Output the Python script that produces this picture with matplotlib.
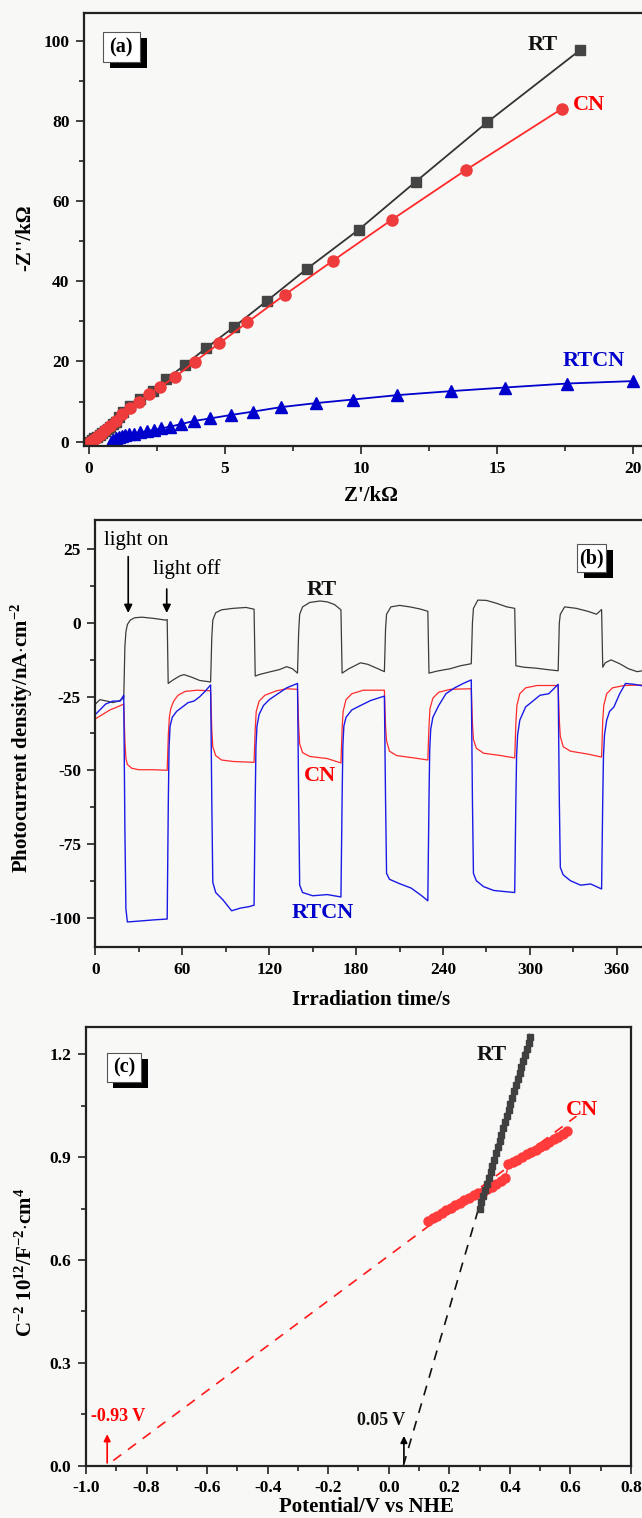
import matplotlib
matplotlib.use('Agg')
import matplotlib.pyplot as plt
from matplotlib.patches import Rectangle
from matplotlib.ticker import MultipleLocator, FormatStrFormatter

plt.rcParams['font.family'] = ['Liberation Serif', 'DejaVu Serif']
plt.rcParams['font.weight'] = 'bold'
plt.rcParams['axes.unicode_minus'] = False
plt.rcParams['mathtext.fontset'] = 'custom'
plt.rcParams['mathtext.rm'] = 'Liberation Serif:bold'
plt.rcParams['mathtext.it'] = 'Liberation Serif:italic:bold'
plt.rcParams['mathtext.bf'] = 'Liberation Serif:bold'

# ---------------- data: (a) Nyquist ----------------
RT_zre = [0.0, 0.1, 0.2, 0.3, 0.41, 0.5, 0.6, 0.7, 0.78, 0.88, 0.99, 1.12, 1.25, 1.51, 1.88,
          2.36, 2.85, 3.54, 4.32, 5.35, 6.54, 8.01, 9.92, 12.02, 14.64, 18.07]
RT_zim = [0.0, 0.4, 0.8, 1.2, 1.7, 2.2, 2.7, 3.2, 3.7, 4.3, 5.0, 6.1, 7.3, 9.0, 10.6,
          12.7, 15.6, 19.2, 23.4, 28.7, 35.1, 43.1, 52.9, 64.9, 79.7, 97.8]
CN_zre = [0.05, 0.15, 0.25, 0.35, 0.45, 0.6, 0.78, 0.99, 1.2, 1.52, 1.84, 2.2, 2.63, 3.18,
          3.89, 4.79, 5.83, 7.21, 8.96, 11.14, 13.86, 17.39]
CN_zim = [0.0, 0.5, 1.0, 1.5, 2.0, 2.9, 4.0, 5.2, 6.9, 8.4, 10.0, 11.8, 13.7, 16.2,
          19.95, 24.5, 29.8, 36.7, 45.1, 55.4, 67.8, 83.1]
RTCN_zre = [0.82, 0.9, 1.0, 1.1, 1.2, 1.32, 1.48, 1.67, 1.88, 2.12, 2.38, 2.65, 2.97, 3.40,
            3.87, 4.47, 5.23, 6.05, 7.06, 8.34, 9.70, 11.34, 13.31, 15.30, 17.59, 20.0]
RTCN_zim = [0.0, 0.4, 0.8, 1.1, 1.35, 1.6, 1.8, 2.0, 2.3, 2.6, 2.9, 3.3, 3.7, 4.4,
            5.15, 5.8, 6.65, 7.5, 8.6, 9.6, 10.5, 11.6, 12.6, 13.5, 14.5, 15.1]

# ---------------- data: (b) photocurrent ----------------
RT_t = [0, 3, 8, 12, 16, 19.5, 20.3, 21, 22, 24, 27, 32, 40, 48.5, 49.5, 50.2, 53, 58, 61, 66, 72,
        79.5, 80.3, 81, 83, 87, 95, 104, 109.5, 110.3, 113, 121, 127, 132, 136, 139.5, 140.3, 141,
        143, 148, 155, 160, 165, 169.5, 170.3, 175, 183, 188, 195, 199.5, 200.3, 201, 204, 210, 217,
        224, 229.5, 230.3, 236, 245, 252, 259.5, 260.3, 261, 264, 270, 277, 284, 289.5, 290.3, 296,
        304, 312, 319.5, 320.3, 321, 324, 332, 340, 346, 349.5, 350.3, 352, 356, 362, 368, 374, 380]
RT_j = [-27.5, -26, -26.5, -27, -26.5, -25.5, -8, -3, -0.5, 1, 1.8, 2, 1.6, 1.0, 1.2, -20.5, -19.5,
        -18, -17.5, -18.3, -19.5, -20, -5, 1, 3.5, 4.5, 5, 5.3, 4.7, -18, -17.5, -16.5, -15.8, -14.8,
        -15.5, -17, -3, 3, 5.5, 7, 7.5, 7.2, 6.3, 4.5, -17, -15.5, -13.5, -14, -15.5, -16.5, -2, 3,
        5.5, 6, 5.5, 4.8, 4, -17, -16.3, -15.5, -14.5, -13.8, 0, 5, 7.8, 7.7, 6.7, 5.5, 5, -14.5,
        -15, -15.3, -15.8, -16.2, 0, 3, 5.5, 5, 4, 3, 4.6, -15, -13.5, -12.5, -13.8, -15.5, -16.5, -16]

CN_t = [0, 5, 10, 15, 19.5, 20.3, 21, 22, 25, 30, 40, 49.5, 50.3, 51, 52, 54, 57, 62, 70, 79.5,
        80.3, 81, 83, 87, 95, 109.5, 110.3, 111, 113, 117, 125, 132, 139.5, 140.3, 141, 143, 148,
        160, 169.5, 170.3, 171, 173, 177, 185, 199.5, 200.3, 201, 203, 208, 220, 229.5, 230.3, 231,
        233, 237, 245, 259.5, 260.3, 261, 263, 268, 280, 289.5, 290.3, 291, 293, 297, 305, 319.5,
        320.3, 321, 323, 328, 340, 349.5, 350.3, 351, 353, 357, 365, 380]
CN_j = [-32.5, -31, -29.5, -28.5, -27.5, -40, -46, -48, -49.3, -49.8, -49.8, -50, -38, -32, -29,
        -26.5, -24.5, -23.2, -22.8, -23, -36, -42, -45, -46.5, -47, -47.3, -36, -30, -26.5, -24.5,
        -23, -22.3, -22.5, -35, -41, -44, -45.3, -46, -47.5, -36, -30, -26, -24, -22.8, -22.8, -35,
        -40, -43.5, -45, -45.8, -46.5, -35, -29, -25.5, -23.5, -22.5, -22.3, -34, -39.5, -42.5,
        -44.2, -45, -45.8, -34, -28, -24, -22, -21.2, -21.2, -33, -38.5, -42, -43.5, -44.5, -45.5,
        -33, -28, -24, -22, -21.2, -21]

RTCN_t = [0, 3, 7, 12, 17, 19.5, 20.3, 21, 22, 30, 40, 49.5, 50.3, 50.8, 51.5, 53, 56, 60, 64, 68,
          72, 76, 79.5, 80.3, 81, 83, 88, 94, 100, 106, 109.5, 110.3, 110.8, 111.5, 113, 116, 120,
          126, 132, 139.5, 140.3, 141, 143, 150, 160, 169.5, 170.3, 170.8, 171.5, 173, 177, 183,
          190, 199.5, 200.3, 201, 203, 210, 218, 225, 229.5, 230.3, 230.8, 231.5, 233, 237, 242,
          248, 254, 259.5, 260.3, 261, 263, 268, 275, 283, 289.5, 290.3, 290.8, 291.5, 293, 297,
          302, 307, 313, 319.5, 320.3, 321, 323, 328, 335, 342, 349.5, 350.3, 350.8, 351.5, 353,
          355, 358, 362, 366, 372, 380]
RTCN_j = [-31, -29.5, -27.5, -26.5, -26.5, -24.5, -70, -97, -101.5, -101.2, -100.8, -100.5, -60,
          -42, -35, -32, -30, -28.5, -27, -26.5, -25, -23, -21, -60, -88, -91.5, -94, -97.7, -96.8,
          -96.3, -95.8, -60, -42, -35, -31, -28, -26, -24, -22, -20.5, -60, -89, -91.5, -92.6,
          -92.2, -93, -60, -42, -35, -32, -29.5, -28, -26.3, -24.8, -60, -85, -87, -88.5, -90,
          -92.5, -94.3, -60, -43, -36, -32, -28, -24, -22, -20.5, -19.3, -60, -85, -87.5, -89.5,
          -90.8, -91.2, -91.5, -60, -45, -38, -33, -28.5, -26.5, -24.5, -24, -20.8, -60, -83,
          -85.5, -87.5, -89, -88.6, -90.3, -60, -45, -38, -33, -30, -28.5, -24, -20.5, -20.8, -21.5]

# ---------------- data: (c) Mott-Schottky ----------------
RT_E = [0.300, 0.306, 0.312, 0.318, 0.324, 0.330, 0.336, 0.342, 0.348, 0.354, 0.360, 0.366, 0.372,
        0.378, 0.384, 0.390, 0.396, 0.402, 0.408, 0.414, 0.420, 0.426, 0.432, 0.438, 0.444, 0.450,
        0.456, 0.462, 0.468]
RT_C2 = [0.750, 0.768, 0.786, 0.803, 0.822, 0.840, 0.858, 0.875, 0.893, 0.912, 0.930, 0.948, 0.966,
         0.984, 1.002, 1.020, 1.038, 1.056, 1.073, 1.092, 1.110, 1.128, 1.145, 1.162, 1.180, 1.198,
         1.215, 1.232, 1.250]
CN_E = [0.130, 0.145, 0.160, 0.175, 0.190, 0.205, 0.220, 0.235, 0.250, 0.265, 0.280, 0.295, 0.310,
        0.325, 0.340, 0.355, 0.370, 0.385, 0.395, 0.410, 0.425, 0.440, 0.455, 0.470, 0.485, 0.500,
        0.515, 0.530, 0.545, 0.560, 0.575, 0.590]
CN_C2 = [0.715, 0.722, 0.730, 0.737, 0.745, 0.752, 0.760, 0.767, 0.774, 0.782, 0.789, 0.795, 0.800,
         0.806, 0.813, 0.821, 0.830, 0.838, 0.880, 0.886, 0.893, 0.900, 0.908, 0.915, 0.922, 0.930,
         0.937, 0.945, 0.953, 0.960, 0.968, 0.976]
RT_fit_E = [0.048, 0.472]
RT_fit_C2 = [0.0, 1.28]
CN_fit_E = [-0.91, 0.62]
CN_fit_C2 = [0.015, 1.02]
RT_fb = 0.05
CN_fb = -0.93

# ---------------- layout ----------------
W, H = 642, 1518
BG = '#f8f8f7'
TICK_FS = 12.5
LAB_FS = 15
NAME_FS = 16
fig = plt.figure(figsize=(W / 100, H / 100), dpi=100, facecolor=BG)


def px_rect(l, t, r, b):
    return [l / W, 1 - b / H, (r - l) / W, (b - t) / H]


def style(ax):
    ax.set_facecolor(BG)
    for s in ax.spines.values():
        s.set_linewidth(1.6)
        s.set_color('#222222')
    ax.tick_params(which='both', direction='out', top=False, right=False,
                   width=1.2, color='#222222', labelsize=TICK_FS)
    ax.tick_params(which='major', length=6, pad=4.5)
    ax.tick_params(which='minor', length=3.5)
    for lab in ax.get_xticklabels() + ax.get_yticklabels():
        lab.set_fontweight('bold')


def tag(text, l, t, r, b, dx=7, dy=6):
    fig.add_artist(Rectangle(((l + dx) / W, 1 - (b + dy) / H), (r - l) / W, (b - t) / H,
                             transform=fig.transFigure, fc='black', ec='none', zorder=5))
    fig.add_artist(Rectangle((l / W, 1 - b / H), (r - l) / W, (b - t) / H,
                             transform=fig.transFigure, fc='white', ec='#555555', lw=0.8, zorder=6))
    fig.text((l + r) / 2 / W, 1 - (t + b) / 2 / H, text, ha='center', va='center',
             fontsize=14.5, fontweight='bold', zorder=7)


# ---------------- (a) ----------------
ax = fig.add_axes(px_rect(84, 13, 654.6, 446))
ax.plot(RT_zre, RT_zim, '-s', color='#333333', mfc='#444444', mec='#444444', ms=7, lw=1.3)
ax.plot(CN_zre, CN_zim, '-o', color='#ff2a2a', mfc='#ee3b3b', mec='#ee3b3b', ms=8, lw=1.3)
ax.plot(RTCN_zre, RTCN_zim, '-^', color='#0000cc', mfc='#0000cc', mec='#0000cc', ms=8, lw=1.3)
ax.set_xlim(-0.18, 20.8)
ax.set_ylim(-1.1, 107)
ax.xaxis.set_major_locator(MultipleLocator(5))
ax.xaxis.set_minor_locator(MultipleLocator(2.5))
ax.yaxis.set_major_locator(MultipleLocator(20))
ax.yaxis.set_minor_locator(MultipleLocator(10))
style(ax)
ax.set_xlabel("Z'/k\u03a9", fontsize=LAB_FS, fontweight='bold')
ax.set_ylabel("-Z''/k\u03a9", fontsize=LAB_FS, fontweight='bold')
ax.xaxis.set_label_coords(0.503, -0.093)
ax.yaxis.set_label_coords(-0.086, 0.48)
ax.text(16.7, 98.9, 'RT', color='#111111', fontsize=NAME_FS, fontweight='bold', ha='center', va='center')
ax.text(18.4, 84, 'CN', color='#ff0000', fontsize=NAME_FS, fontweight='bold', ha='center', va='center')
ax.text(18.55, 20, 'RTCN', color='#0000cc', fontsize=NAME_FS, fontweight='bold', ha='center', va='center')
tag('(a)', 102.7, 32, 140, 62)

# ---------------- (b) ----------------
ax = fig.add_axes(px_rect(95.5, 520, 653, 947))
ax.plot(RT_t, RT_j, color='#3c3c3c', lw=0.9)
ax.plot(CN_t, CN_j, color='#ff2b2b', lw=0.9)
ax.plot(RTCN_t, RTCN_j, color='#1a1ae6', lw=1.0)
ax.set_xlim(0, 385)
ax.set_ylim(-110, 35)
ax.xaxis.set_major_locator(MultipleLocator(60))
ax.xaxis.set_minor_locator(MultipleLocator(30))
ax.yaxis.set_major_locator(MultipleLocator(25))
ax.yaxis.set_minor_locator(MultipleLocator(12.5))
style(ax)
ax.set_xlabel('Irradiation time/s', fontsize=LAB_FS, fontweight='bold')
ax.set_ylabel(r'Photocurrent density/nA$\cdot$cm$^{-2}$', fontsize=LAB_FS, fontweight='bold')
ax.xaxis.set_label_coords(0.494, -0.100)
ax.yaxis.set_label_coords(-0.108, 0.49)
ax.text(5.7, 28, 'light on', fontsize=15, fontweight='normal', ha='left', va='center')
ax.text(40, 18.4, 'light off', fontsize=15, fontweight='normal', ha='left', va='center')
ax.annotate('', xy=(22.6, 2.5), xytext=(22.6, 23.5),
            arrowprops=dict(arrowstyle='-|>', color='black', lw=1.2, mutation_scale=12))
ax.annotate('', xy=(49.2, 2.5), xytext=(49.2, 12.5),
            arrowprops=dict(arrowstyle='-|>', color='black', lw=1.2, mutation_scale=12))
ax.text(156, 11.3, 'RT', color='#111111', fontsize=NAME_FS, fontweight='bold', ha='center', va='center')
ax.text(155, -52, 'CN', color='#ff0000', fontsize=NAME_FS, fontweight='bold', ha='center', va='center')
ax.text(157, -98.3, 'RTCN', color='#0000cc', fontsize=NAME_FS, fontweight='bold', ha='center', va='center')
tag('(b)', 577, 544, 606, 572)

# ---------------- (c) ----------------
ax = fig.add_axes(px_rect(86, 1027, 631, 1465.7))
ax.plot(RT_fit_E, RT_fit_C2, color='#111111', lw=1.2, dashes=(6, 5))
ax.plot(CN_fit_E, CN_fit_C2, color='#ff1a1a', lw=1.2, dashes=(6, 5))
ax.plot(CN_E, CN_C2, '-o', color='#ff3333', mfc='#ff3b3b', mec='#ff3b3b', ms=6.5, lw=1.0)
ax.plot(RT_E, RT_C2, '-s', color='#333333', mfc='#404040', mec='#404040', ms=4.5, lw=1.0)
ax.set_xlim(-1.0, 0.8)
ax.set_ylim(0, 1.28)
ax.xaxis.set_major_locator(MultipleLocator(0.2))
ax.xaxis.set_minor_locator(MultipleLocator(0.1))
ax.yaxis.set_major_locator(MultipleLocator(0.3))
ax.yaxis.set_minor_locator(MultipleLocator(0.15))
ax.xaxis.set_major_formatter(FormatStrFormatter('%.1f'))
ax.yaxis.set_major_formatter(FormatStrFormatter('%.1f'))
style(ax)
ax.set_xlabel('Potential/V vs NHE', fontsize=LAB_FS, fontweight='bold')
ax.set_ylabel(r'C$^{-2}$ 10$^{12}$/F$^{-2}$$\cdot$cm$^{4}$', fontsize=LAB_FS, fontweight='bold')
ax.xaxis.set_label_coords(0.515, -0.072)
ax.yaxis.set_label_coords(-0.09, 0.463)
ax.annotate('', xy=(CN_fb, 0.1), xytext=(CN_fb, 0.0),
            arrowprops=dict(arrowstyle='-|>', color='#ff0000', lw=1.2, mutation_scale=10))
ax.annotate('', xy=(RT_fb, 0.095), xytext=(RT_fb, 0.0),
            arrowprops=dict(arrowstyle='-|>', color='black', lw=1.2, mutation_scale=10))
ax.text(-0.985, 0.143, '-0.93 V', color='#ff0000', fontsize=13, fontweight='bold', ha='left', va='center')
ax.text(0.053, 0.131, '0.05 V', color='#111111', fontsize=13, fontweight='bold', ha='right', va='center')
ax.text(0.34, 1.198, 'RT', color='#111111', fontsize=NAME_FS, fontweight='bold', ha='center', va='center')
ax.text(0.638, 1.038, 'CN', color='#ff0000', fontsize=NAME_FS, fontweight='bold', ha='center', va='center')
tag('(c)', 106.7, 1052.7, 141, 1082, dx=6.6, dy=6.3)

fig.savefig('out.png', dpi=100, facecolor=BG)
